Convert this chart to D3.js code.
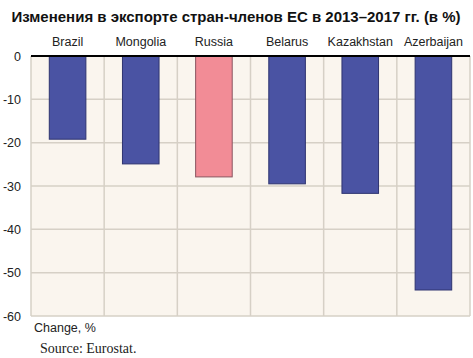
<!DOCTYPE html>
<html><head><meta charset="utf-8">
<script src="https://cdn.jsdelivr.net/npm/d3@7"></script>
<style>body{margin:0;background:#fff}svg{display:block}</style>
</head><body>
<script>
const categories = ["Brazil","Mongolia","Russia","Belarus","Kazakhstan","Azerbaijan"];
const values = [-19.2, -24.9, -27.9, -29.5, -31.7, -54.0];
const highlight = ["Russia"];
const yTicks = [0,-10,-20,-30,-40,-50,-60];
const title = "Изменения в экспорте стран-членов ЕС в 2013–2017 гг. (в %)";
const yAxisLabel = "Change, %";
const source = "Source: Eurostat.";

const W=473,H=358, L=31, R=470, T=56, B=316;
const svg=d3.select("body").append("svg").attr("width",W).attr("height",H);
const x=d3.scaleBand().domain(categories).range([L,R]).paddingInner(0.5).paddingOuter(0.25);
const y=d3.scaleLinear().domain([-60,0]).range([B,T]);

svg.append("rect").attr("x",L).attr("y",T).attr("width",R-L).attr("height",B-T).attr("fill","#FAF5EE");
// horizontal grid
svg.append("g").selectAll("line").data(yTicks.filter(d=>d!==0)).join("line")
  .attr("x1",L).attr("x2",R).attr("y1",d=>y(d)).attr("y2",d=>y(d))
  .attr("stroke","#D6D0C6").attr("stroke-width",1.5);
// vertical grid at band boundaries
const step=x.step();
const bounds=d3.range(categories.length+1).map(i=>L+i*step);
svg.append("g").selectAll("line").data(bounds).join("line")
  .attr("x1",d=>d).attr("x2",d=>d).attr("y1",T).attr("y2",B)
  .attr("stroke","#D6D0C6").attr("stroke-width",1.5);

svg.append("g").selectAll("rect").data(categories).join("rect")
  .attr("x",d=>x(d)).attr("width",x.bandwidth())
  .attr("y",y(0)).attr("height",(d,i)=>y(values[i])-y(0))
  .attr("fill",d=>highlight.includes(d)?"#F28C96":"#4A53A3")
  .attr("stroke",d=>highlight.includes(d)?"#8A5560":"#2E3470").attr("stroke-width",1);

svg.append("line").attr("x1",L).attr("x2",R).attr("y1",y(0)).attr("y2",y(0))
  .attr("stroke","#000").attr("stroke-width",2);

// y axis labels
const ya=d3.axisLeft(y).tickValues(yTicks).tickSize(0).tickPadding(0).tickFormat(d=>String(d));
const yg=svg.append("g").attr("transform",`translate(21,0)`).call(ya);
yg.select(".domain").remove();
yg.selectAll("text").attr("font-family","Liberation Sans, Arial, sans-serif").attr("font-size",12.5).attr("fill","#222");

// category labels on top
const xa=d3.axisTop(x).tickSize(0).tickPadding(0);
const xg=svg.append("g").attr("transform",`translate(0,46)`).call(xa);
xg.select(".domain").remove();
xg.selectAll("text").attr("font-family","Liberation Sans, Arial, sans-serif").attr("font-size",12.5).attr("fill","#222");

const t=svg.append("text").attr("x",236).attr("y",22).attr("text-anchor","middle")
  .attr("font-family","Liberation Sans, Arial, sans-serif").attr("font-weight","bold").attr("font-size",15)
  .attr("fill","#111").text(title);
// shrink to fit reference width if needed
const tw=t.node().getComputedTextLength();
if(tw>456){ t.attr("font-size",15*456/tw); }
svg.append("text").attr("x",34).attr("y",332).attr("font-family","Liberation Sans, Arial, sans-serif")
  .attr("font-size",12.5).attr("fill","#222").text(yAxisLabel);
svg.append("text").attr("x",40).attr("y",353).attr("font-family","Liberation Serif, Times New Roman, serif")
  .attr("font-size",14).attr("fill","#222").text(source);
</script>
</body></html>
